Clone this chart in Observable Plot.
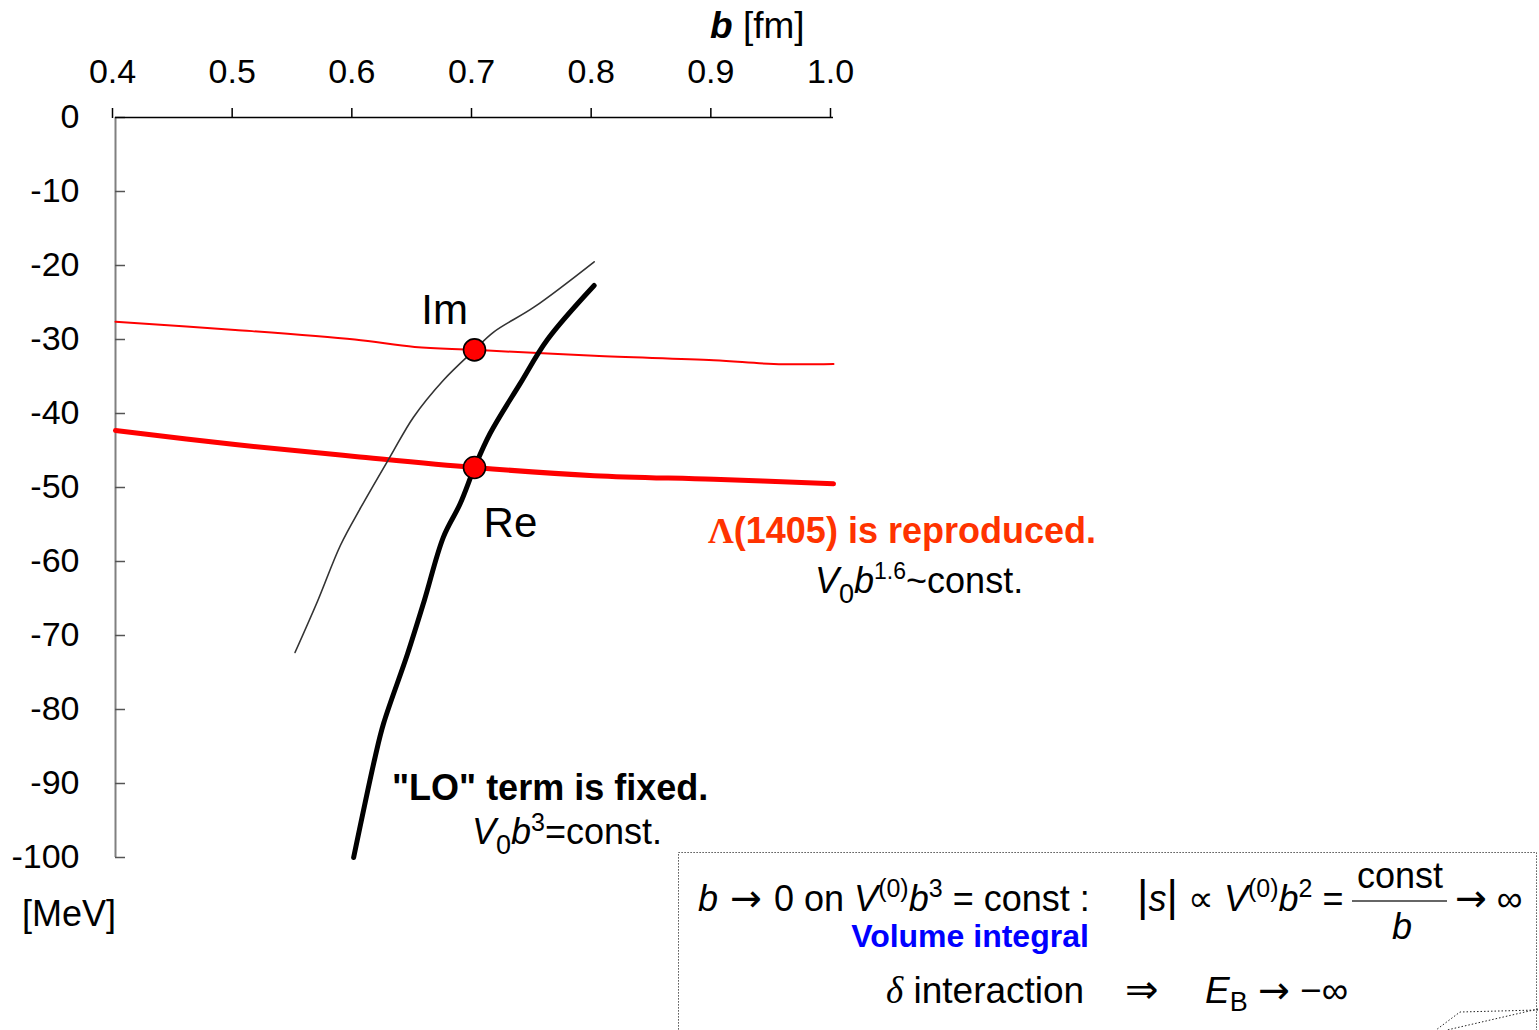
<!DOCTYPE html>
<html>
<head>
<meta charset="utf-8">
<script src="https://cdn.jsdelivr.net/npm/d3@7"></script>
<script src="https://cdn.jsdelivr.net/npm/@observablehq/plot@0.6"></script>
<style>
  body { margin: 0; background: #fff; }
  #wrap { position: relative; width: 1539px; height: 1030px; overflow: hidden;
          font-family: "Liberation Sans", Arial, sans-serif; }
  #wrap > svg, #wrap > figure { position: absolute; left: 0; top: 0; margin: 0; }
</style>
</head>
<body>
<div id="wrap"></div>
<script>
// Range parameter b [fm] and potential strength [MeV]
const xTicks = [0.4, 0.5, 0.6, 0.7, 0.8, 0.9, 1.0];
const yTicks = [0, -10, -20, -30, -40, -50, -60, -70, -80, -90, -100];

// Λ(1405) reproduced: real part (thick red) and imaginary part (thin red)
const fitReB = [0.4, 0.5, 0.6, 0.7, 0.8, 0.9, 1.0];
const fitReV = [-42.3, -44.2, -45.8, -47.3, -48.4, -48.9, -49.5];
const fitImB = [0.4, 0.5, 0.6, 0.65, 0.7, 0.8, 0.9, 0.95, 1.0];
const fitImV = [-27.6, -28.7, -30.0, -31.0, -31.4, -32.2, -32.8, -33.3, -33.3];

// "LO" term fixed, V0 b^3 = const: real part (thick black) and imaginary part (thin black)
const loReB = [0.599, 0.617, 0.624, 0.644, 0.658, 0.674, 0.688, 0.700, 0.713, 0.738, 0.761, 0.800];
const loReV = [-100, -86.4, -81.9, -72.5, -65.3, -56.7, -52.2, -47.3, -42.7, -36.0, -30.0, -22.7];
const loImB = [0.550, 0.569, 0.588, 0.605, 0.630, 0.649, 0.674, 0.700, 0.716, 0.750, 0.800];
const loImV = [-72.3, -65.3, -57.8, -52.7, -45.7, -40.5, -35.5, -31.4, -29.0, -25.6, -19.5];

// Crossing points at b = 0.7 fm
const crossB = [0.7, 0.7];
const crossV = [-31.4, -47.3];

// Curve labels
const labelText = ["Im", "Re"];
const labelB = [0.675, 0.730];
const labelV = [-26.1, -54.9];

const toRows = (bs, vs) => bs.map((b, i) => ({b, v: vs[i]}));
const fitRe = toRows(fitReB, fitReV);
const fitIm = toRows(fitImB, fitImV);
const loRe = toRows(loReB, loReV);
const loIm = toRows(loImB, loImV);
const cross = toRows(crossB, crossV);
const labels = labelText.map((t, i) => ({t, b: labelB[i], v: labelV[i]}));

const chart = Plot.plot({
  width: 1539,
  height: 1030,
  marginLeft: 115,
  marginRight: 706,
  marginTop: 117,
  marginBottom: 173,
  x: {domain: [0.4, 1.0]},
  y: {domain: [-100, 0]},
  style: {fontFamily: "'Liberation Sans', Arial, sans-serif", color: "black", background: "white", overflow: "visible"},
  marks: [
    // left axis line and inward ticks
    Plot.ruleX([0.4], {stroke: "#808080", strokeWidth: 2}),
    Plot.axisY(yTicks, {anchor: "left", tickSize: 10, dx: 10, text: null, stroke: "#555", strokeWidth: 1.5, label: null}),
    Plot.axisY(yTicks, {anchor: "left", tickSize: 0, tickPadding: 36, fontSize: 34, fill: "black",
      tickFormat: d => String(d), label: null}),
    // top axis
    Plot.ruleY([0], {stroke: "black", strokeWidth: 1.5}),
    Plot.axisX(xTicks, {anchor: "top", tickSize: 10, tickPadding: 25, fontSize: 34, fill: "black", stroke: "black",
      strokeWidth: 1.5, dx: -3, tickFormat: d => d.toFixed(1), label: null}),
    // curves
    Plot.line(fitIm, {x: "b", y: "v", stroke: "#ff0000", strokeWidth: 2, curve: "catmull-rom"}),
    Plot.line(fitRe, {x: "b", y: "v", stroke: "#ff0000", strokeWidth: 5, curve: "catmull-rom"}),
    Plot.line(loIm, {x: "b", y: "v", stroke: "#333", strokeWidth: 1.6, curve: "catmull-rom"}),
    Plot.line(loRe, {x: "b", y: "v", stroke: "#000", strokeWidth: 5, curve: "catmull-rom"}),
    Plot.dot(cross, {x: "b", y: "v", r: 11, fill: "#ff0000", stroke: "black", strokeWidth: 1.6}),
    Plot.text(labels, {x: "b", y: "v", text: "t", fontSize: 42, fill: "black"})
  ]
});
document.getElementById("wrap").appendChild(chart);

// Annotation layer with sub/superscripts and the explanatory box
const over = d3.select("#wrap").append("svg")
  .attr("width", 1539).attr("height", 1030)
  .style("font-family", "'Liberation Sans', Arial, sans-serif");

function rich(x, y, size, parts, attrs = {}) {
  const t = over.append("text").attr("x", x).attr("y", y).attr("font-size", size);
  for (const [k, v] of Object.entries(attrs)) t.attr(k, v);
  for (const p of parts) {
    const s = t.append("tspan").text(p.t);
    if (p.i) s.attr("font-style", "italic");
    if (p.b) s.attr("font-weight", "bold");
    if (p.f) s.attr("font-family", p.f);
    if (p.fill) s.attr("fill", p.fill);
    if (p.dy) s.attr("dy", p.dy);
    if (p.fs) s.attr("font-size", p.fs);
  }
  return t;
}
const ARROW = "'DejaVu Sans', sans-serif";

// axis titles
rich(710, 38, 37, [{t: "b", i: true, b: true}, {t: " [fm]"}]);
rich(22, 926, 36, [{t: "[MeV]"}]);

// Λ(1405) annotation
rich(708, 543, 36, [{t: "Λ", f: "'Liberation Serif', serif"}, {t: "(1405) is reproduced."}],
  {fill: "#ff3300", "font-weight": "bold"});
rich(815, 593, 36, [{t: "V", i: true}, {t: "0", dy: 10, fs: 27}, {t: "b", i: true, dy: -10},
  {t: "1.6", dy: -14, fs: 23}, {t: "~const.", dy: 14}]);

// LO annotation
rich(392, 800, 36, [{t: "\"LO\" term is fixed."}], {"font-weight": "bold"});
rich(472, 844, 36, [{t: "V", i: true}, {t: "0", dy: 10, fs: 27}, {t: "b", i: true, dy: -10},
  {t: "3", dy: -13, fs: 25}, {t: "=const.", dy: 13}]);

// Explanatory box (dotted frame and callout tail)
over.append("rect").attr("x", 678.5).attr("y", 852.5).attr("width", 858).attr("height", 240)
  .attr("fill", "none").attr("stroke", "#222").attr("stroke-width", 1).attr("stroke-dasharray", "1.2,1.8");
over.append("polyline").attr("points", "1538,1010 1460,1012 1436,1030")
  .attr("fill", "none").attr("stroke", "#222").attr("stroke-dasharray", "1.5,2");
over.append("polyline").attr("points", "1538,1009 1447,1030")
  .attr("fill", "none").attr("stroke", "#222").attr("stroke-dasharray", "1.5,2");

rich(698, 911, 36, [{t: "b", i: true}, {t: " → ", f: ARROW, fs: 38}, {t: "0 on "}, {t: "V", i: true},
  {t: "(0)", dy: -14, fs: 25}, {t: "b", i: true, dy: 14}, {t: "3", dy: -14, fs: 25}, {t: " = const :", dy: 14}]);
rich(1137, 911, 36, [{t: "|", fs: 44}, {t: "s", i: true}, {t: "|", fs: 44}, {t: " ∝ "}, {t: "V", i: true},
  {t: "(0)", dy: -14, fs: 25}, {t: "b", i: true, dy: 14}, {t: "2", dy: -14, fs: 25}, {t: " =", dy: 14}]);
rich(1400, 888, 36, [{t: "const"}], {"text-anchor": "middle"});
over.append("line").attr("x1", 1352).attr("x2", 1447).attr("y1", 901).attr("y2", 901)
  .attr("stroke", "#333").attr("stroke-width", 1.5);
rich(1402, 939, 36, [{t: "b", i: true}], {"text-anchor": "middle"});
rich(1455, 911, 36, [{t: "→", f: ARROW, fs: 38}, {t: " ∞"}]);
rich(970, 947, 32, [{t: "Volume integral"}], {"text-anchor": "middle", "font-weight": "bold", fill: "#0000ff"});
rich(886, 1003, 37, [{t: "δ", i: true, f: "'Liberation Serif', serif"}, {t: " interaction"}]);
rich(1125, 1003, 36, [{t: "⇒", f: ARROW, fs: 40}]);
rich(1205, 1003, 37, [{t: "E", i: true}, {t: "B", dy: 8, fs: 27}, {t: " ", dy: -8}, {t: "→", f: ARROW, fs: 38}, {t: " −∞"}]);
</script>
</body>
</html>
